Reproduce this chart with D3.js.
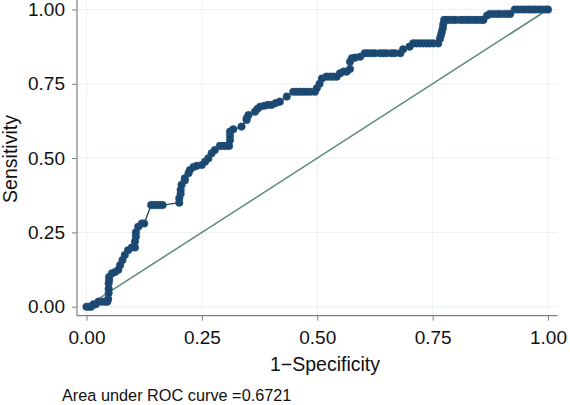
<!DOCTYPE html>
<html><head><meta charset="utf-8">
<script src="https://cdn.jsdelivr.net/npm/d3@7"></script>
<style>body{margin:0;background:#fff}svg{display:block}text{font-family:"Liberation Sans",Arial,Helvetica,sans-serif;fill:#111}</style>
</head><body>
<svg id="c" width="570" height="405"></svg>
<script>
const fpr = [0,0.005,0.01,0.015,0.02,0.026,0.033,0.04,0.045,0.047,0.048,0.048,0.048,0.049,0.049,0.055,0.062,0.069,0.073,0.078,0.083,0.09,0.098,0.105,0.105,0.107,0.107,0.112,0.12,0.125,0.14,0.145,0.15,0.155,0.16,0.165,
0.201,0.201,0.204,0.204,0.206,0.213,0.213,0.221,0.224,0.232,0.239,0.25,0.257,0.264,0.271,0.278,0.289,0.295,0.302,0.309,0.311,0.311,0.311,0.318,0.336,0.347,0.347,0.351,0.365,0.37,0.376,0.385,0.393,0.401,0.41,0.419,0.434,0.448,0.455,0.462,0.47,0.477,0.485,0.495,0.499,0.505,0.51,0.52,0.528,0.535,0.542,0.549,0.557,0.564,0.571,0.571,0.575,0.582,0.593,0.603,0.61,0.618,0.625,0.636,0.643,0.65,0.661,0.668,0.68,0.686,0.7,0.708,0.715,0.723,0.73,0.737,0.744,0.752,0.762,0.766,0.768,0.77,0.772,0.773,0.775,0.78,0.787,0.795,0.80,0.81,0.817,0.825,0.832,0.84,0.847,0.855,0.86,0.868,0.874,0.882,0.89,0.896,0.905,0.912,0.918,0.928,0.935,0.943,0.95,0.958,0.965,0.972,0.98,0.987,0.994,1];
const tpr = [0,0,0,0.008,0.008,0.017,0.017,0.017,0.017,0.026,0.046,0.06,0.079,0.09,0.10,0.112,0.117,0.124,0.14,0.157,0.174,0.19,0.199,0.199,0.219,0.236,0.25,0.269,0.28,0.28,0.342,0.342,0.342,0.342,0.342,0.342,
0.35,0.365,0.38,0.393,0.41,0.425,0.432,0.449,0.46,0.47,0.474,0.477,0.488,0.499,0.516,0.527,0.541,0.541,0.541,0.541,0.561,0.575,0.589,0.597,0.606,0.628,0.634,0.645,0.656,0.665,0.673,0.676,0.679,0.679,0.685,0.69,0.707,0.723,0.723,0.723,0.723,0.723,0.723,0.723,0.735,0.75,0.768,0.774,0.774,0.774,0.774,0.785,0.791,0.791,0.8,0.824,0.836,0.838,0.841,0.853,0.853,0.853,0.853,0.853,0.853,0.853,0.853,0.853,0.853,0.866,0.875,0.886,0.886,0.886,0.886,0.886,0.886,0.886,0.886,0.902,0.914,0.925,0.937,0.95,0.965,0.965,0.965,0.965,0.965,0.965,0.965,0.965,0.965,0.965,0.965,0.965,0.965,0.98,0.985,0.985,0.985,0.985,0.985,0.985,0.985,1,1,1,1,1,1,1,1,1,1,1];
const tickVals = [0,0.25,0.5,0.75,1];
const tickLabels = ["0.00","0.25","0.50","0.75","1.00"];
const xTitle = "1\u2212Specificity";
const yTitle = "Sensitivity";
const note = "Area under ROC curve =0.6721";

(function(){
const pts = fpr.map((f,i)=>({x:f,y:tpr[i]}));
const svg = d3.select("#c");
const x = d3.scaleLinear().domain([0,1]).range([86.5,548]);
const y = d3.scaleLinear().domain([0,1]).range([306.7,9.5]);
const pL = 77, pB = 315.7, pR = 557.5, pT = 0;

// grid
svg.append("g").selectAll("line").data(tickVals).join("line")
  .attr("x1",pL).attr("x2",pR).attr("y1",d=>y(d)).attr("y2",d=>y(d))
  .attr("stroke","#eaf1f4").attr("stroke-width",1);
svg.append("g").selectAll("line").data(tickVals).join("line")
  .attr("y1",pT).attr("y2",pB).attr("x1",d=>x(d)).attr("x2",d=>x(d))
  .attr("stroke","#eaf1f4").attr("stroke-width",1);

// axes
const fmt = (d)=>tickLabels[tickVals.indexOf(d)];
const xAxis = svg.append("g").attr("transform",`translate(0,${pB})`)
  .call(d3.axisBottom(x).tickValues(tickVals).tickFormat(fmt).tickSize(5).tickPadding(10).tickSizeOuter(0));
const yAxis = svg.append("g").attr("transform",`translate(${pL},0)`)
  .call(d3.axisLeft(y).tickValues(tickVals).tickFormat(fmt).tickSize(5).tickPadding(7).tickSizeOuter(0));
[xAxis,yAxis].forEach(a=>{
  a.selectAll("text").style("font-size","19px").attr("fill","#111");
  a.selectAll(".tick line").attr("stroke","#808080");
  a.select(".domain").remove();
});
svg.append("line").attr("x1",pL).attr("x2",pL).attr("y1",pT).attr("y2",pB).attr("stroke","#808080").attr("stroke-width",1.2);
svg.append("line").attr("x1",pL).attr("x2",pR).attr("y1",pB).attr("y2",pB).attr("stroke","#808080").attr("stroke-width",1.2);

// reference line
svg.append("line").attr("x1",x(0)).attr("y1",y(0)).attr("x2",x(1)).attr("y2",y(1))
  .attr("stroke","#5a8b74").attr("stroke-width",1.5);

// ROC curve
svg.append("path").datum(pts)
  .attr("d",d3.line().x(d=>x(d.x)).y(d=>y(d.y)))
  .attr("fill","none").attr("stroke","#1a476f").attr("stroke-width",1.3);
svg.append("g").selectAll("circle").data(pts).join("circle")
  .attr("cx",d=>x(d.x)).attr("cy",d=>y(d.y)).attr("r",3.8)
  .attr("fill","#1a476f").attr("stroke","#2a5680").attr("stroke-width",0.5);

// titles
svg.append("text").attr("x",325).attr("y",371).attr("text-anchor","middle").style("font-size","19.5px").text(xTitle);
svg.append("text").attr("transform","translate(17,159) rotate(-90)").attr("text-anchor","middle").style("font-size","19.5px").text(yTitle);
svg.append("text").attr("x",62).attr("y",401).style("font-size","16.3px").text(note);
})();
</script>
</body></html>
